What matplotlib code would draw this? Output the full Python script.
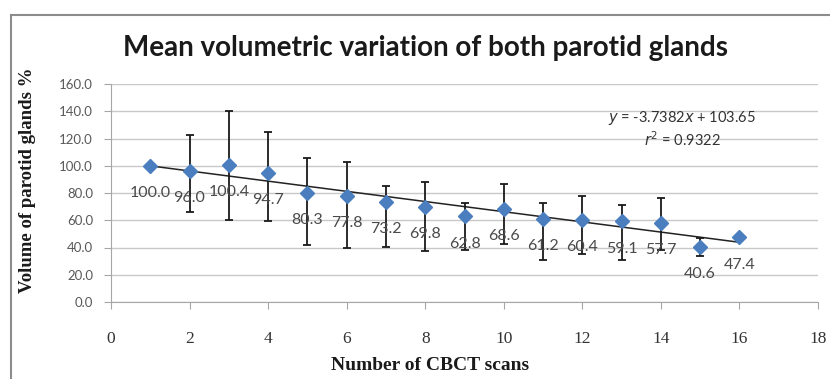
import numpy as np
import matplotlib
matplotlib.use("Agg")
import matplotlib.pyplot as plt
from matplotlib.lines import Line2D

# data
scans = [1, 2, 3, 4, 5, 6, 7, 8, 9, 10, 11, 12, 13, 14, 15, 16]
volume = [100.0, 96.0, 100.4, 94.7, 80.3, 77.8, 73.2, 69.8, 62.8, 68.6,
          61.2, 60.4, 59.1, 57.7, 40.6, 47.4]
# error bar ends (upper / lower), estimated; first and last have none
bar_top = [100.0, 122.3, 140.4, 125.0, 105.4, 102.4, 85.5, 88.2, 72.5, 86.5,
           72.3, 77.7, 71.0, 76.6, 47.2, 47.4]
bar_bot = [100.0, 65.7, 60.3, 59.5, 42.1, 39.4, 40.2, 37.5, 38.0, 42.9,
           31.1, 35.3, 31.1, 38.0, 34.0, 47.4]
y_ticks = [0, 20, 40, 60, 80, 100, 120, 140, 160]
x_ticks = [0, 2, 4, 6, 8, 10, 12, 14, 16, 18]

x = np.array(scans)
v = np.array(volume)
err = [v - np.array(bar_bot), np.array(bar_top) - v]

fig = plt.figure(figsize=(8.30, 3.79), dpi=100)
ax = fig.add_axes([111/830, 1-302/379, (818-111)/830, (302-84)/379])

ax.set_xlim(0, 18)
ax.set_ylim(0, 160)
ax.set_yticks(y_ticks)
ax.set_xticks(x_ticks)
ax.set_yticklabels(['%.1f' % t for t in y_ticks], fontfamily='Lato',
                   fontsize=9.5, color='#595959')
ax.set_xticklabels([str(t) for t in x_ticks], fontfamily='Liberation Serif',
                   fontsize=12.5, color='#333333')
ax.grid(axis='y', color='#c8c8c8', lw=1)
ax.set_axisbelow(True)
for s in ['top', 'right']:
    ax.spines[s].set_visible(False)
for s in ['left', 'bottom']:
    ax.spines[s].set_color('#a6a6a6')
ax.tick_params(axis='y', length=5, color='#a6a6a6', pad=8)
ax.tick_params(axis='x', length=5, color='#a6a6a6', pad=16)

# linear trend line
slope, icpt = np.polyfit(x, v, 1)
ax.plot([x[0], x[-1]], [slope*x[0]+icpt, slope*x[-1]+icpt], color='#222222', lw=1.1, zorder=3)

ax.errorbar(x, v, yerr=err, fmt='none', ecolor='#1a1a1a', elinewidth=1.3,
            capsize=3, capthick=1.3, zorder=4)
ax.plot(x, v, 'D', color='#4a7ebf', ms=7, mec='#4a7ebf', zorder=5)

for xi, vi in zip(scans, volume):
    ax.annotate('%.1f' % vi, (xi, vi), xytext=(0, -19.5), textcoords='offset points',
                ha='center', va='center', fontfamily='Lato', fontsize=11.5, color='#4a4a4a',
                zorder=6)

ax.text(682/830, 1-118/379, r'$y$ = -3.7382$x$ + 103.65', transform=fig.transFigure,
        ha='center', va='center', fontfamily='Lato', fontsize=10.5, color='#333333')
ax.text(682/830, 1-140/379, r'$r^2$ = 0.9322', transform=fig.transFigure,
        ha='center', va='center', fontfamily='Lato', fontsize=10.5, color='#333333')

fig.text(425/830, 1-48/379, 'Mean volumetric variation of both parotid glands',
         ha='center', va='center', fontfamily='Lato', fontweight='bold',
         fontsize=20, color='#1a1a1a')
fig.text(28/830, 1-180/379, 'Volume of parotid glands %', rotation=90,
         ha='center', va='center', fontfamily='Liberation Serif', fontweight='bold',
         fontsize=13.5, color='#1a1a1a')
fig.text(430/830, 1-365/379, 'Number of CBCT scans',
         ha='center', va='center', fontfamily='Liberation Serif', fontweight='bold',
         fontsize=14, color='#1a1a1a')

# outer chart border (top and left only visible)
fig.add_artist(Line2D([11/830, 1], [1-15/379, 1-15/379], color='#8c8c8c', lw=1.5))
fig.add_artist(Line2D([11/830, 11/830], [0, 1-15/379], color='#8c8c8c', lw=1.5))

fig.savefig('out.png', dpi=100)
